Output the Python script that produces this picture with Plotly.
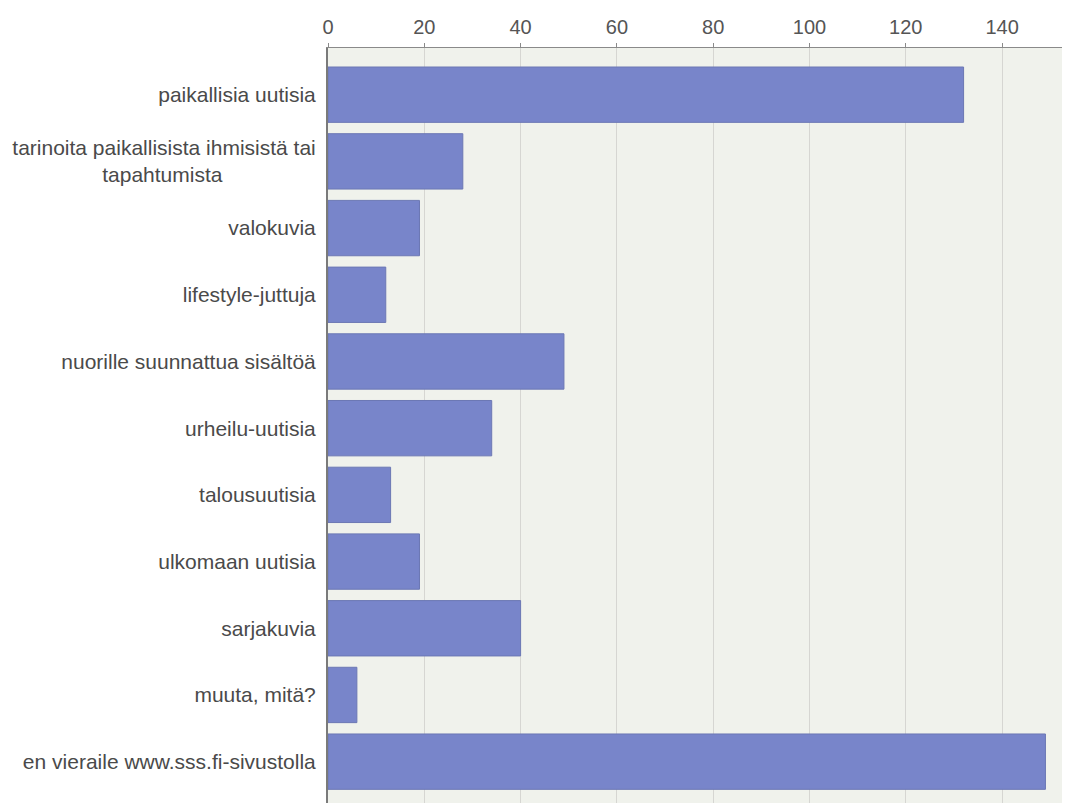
import plotly.graph_objects as go

categories = [
    "paikallisia uutisia",
    "tarinoita paikallisista ihmisistä tai<br>tapahtumista" + "&nbsp;" * 16,
    "valokuvia",
    "lifestyle-juttuja",
    "nuorille suunnattua sisältöä",
    "urheilu-uutisia",
    "talousuutisia",
    "ulkomaan uutisia",
    "sarjakuvia",
    "muuta, mitä?",
    "en vieraile www.sss.fi-sivustolla",
]
values = [132, 28, 19, 12, 49, 34, 13, 19, 40, 6, 149]
tick_vals = [0, 20, 40, 60, 80, 100, 120, 140]

fig = go.Figure(
    go.Bar(
        x=values,
        y=categories,
        orientation="h",
        marker=dict(color="#7885ca", line=dict(color="#6c78b4", width=1)),
        hoverinfo="x+y",
    )
)

fig.update_layout(
    width=1062,
    height=795,
    margin=dict(l=320, r=0, t=40, b=0),
    paper_bgcolor="white",
    plot_bgcolor="#f0f2ec",
    bargap=0.17,
    showlegend=False,
    font=dict(family="Liberation Sans, Arial, sans-serif", size=20, color="#4a4a4a"),
    xaxis=dict(
        side="top",
        range=[0, 154.1],
        tickvals=tick_vals,
        showgrid=True,
        gridcolor="#d6d6d2",
        gridwidth=1,
        zeroline=False,
        showline=True,
        linecolor="#8a8a8a",
        linewidth=1,
        ticks="outside",
        ticklen=4,
        tickcolor="#8a8a8a",
        ticklabelstandoff=1,
        tickfont=dict(size=20, color="#555555"),
        automargin=False,
        fixedrange=True,
    ),
    yaxis=dict(
        categoryorder="array",
        categoryarray=categories,
        range=[10.62, -0.70],
        showgrid=False,
        zeroline=False,
        showline=True,
        linecolor="#7a7a7a",
        linewidth=2,
        ticks="",
        ticklabelstandoff=6,
        tickfont=dict(size=21, color="#4a4a4a"),
        automargin=False,
        fixedrange=True,
    ),
)

fig.write_html("out.html")
